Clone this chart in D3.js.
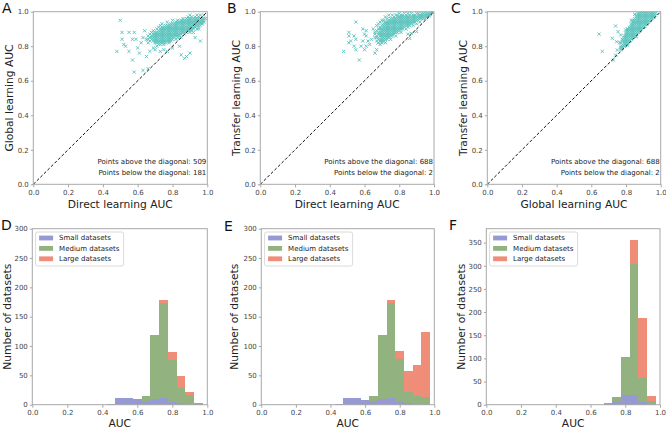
<!DOCTYPE html>
<html><head><meta charset="utf-8">
<script src="https://cdn.jsdelivr.net/npm/d3@7"></script>
<style>body{margin:0;background:#fff} text{font-family:"DejaVu Sans",sans-serif}</style>
</head><body><svg id="c" width="666" height="428"></svg>
<script>
// ---------- DATA ----------
const axisTicks = [0, 0.2, 0.4, 0.6, 0.8, 1.0];
const histYTicksDE = [0, 50, 100, 150, 200, 250, 300];
const histYTicksF = [0, 50, 100, 150, 200, 250, 300, 350];
const seriesNames = ["Small datasets", "Medium datasets", "Large datasets"];
const histBins = [0.45, 0.50, 0.55, 0.60, 0.65, 0.70, 0.75, 0.80, 0.85, 0.90, 0.95];
const histD_small  = [1, 12, 11, 9, 7, 10, 11, 5, 3, 0, 0];
const histD_medium = [0, 0, 0, 0, 8, 109, 162, 72, 25, 17, 3];
const histD_large  = [0, 0, 0, 0, 0, 0, 6, 12, 21, 5, 0];
const histE_small  = [1, 12, 11, 8, 7, 10, 11, 5, 3, 0, 0];
const histE_medium = [0, 0, 0, 0, 8, 109, 162, 73, 18, 15, 13];
const histE_large  = [0, 0, 0, 0, 0, 0, 6, 13, 37, 52, 111];
const histF_small  = [0, 0, 0, 0, 0, 2, 8, 22, 22, 6, 0];
const histF_medium = [0, 0, 0, 0, 0, 1, 8, 81, 281, 52, 9];
const histF_large  = [0, 0, 0, 0, 0, 0, 0, 0, 53, 129, 10];

const scatterLabels = [
  ["Direct learning AUC", "Global learning AUC"],
  ["Direct learning AUC", "Transfer learning AUC"],
  ["Global learning AUC", "Transfer learning AUC"]
];
const aboveCounts = [509, 688, 688];
const belowCounts = [181, 2, 2];

// Panel A: Direct (x) vs Global (y)
const scatterA_sparse = [[0.50,0.95],[0.48,0.77],[0.51,0.84],[0.52,0.81],[0.51,0.88],[0.55,0.88],[0.58,0.88],[0.55,0.77],[0.57,0.72],[0.58,0.65],[0.59,0.84],[0.60,0.79],[0.62,0.82],[0.63,0.85],[0.65,0.84],[0.63,0.66],[0.66,0.67],[0.53,0.80],[0.57,0.84],[0.61,0.76],[0.64,0.89],[0.65,0.74],[0.66,0.82],[0.67,0.77],[0.68,0.88],[0.69,0.79],[0.70,0.78],[0.73,0.77],[0.75,0.78],[0.77,0.77],[0.85,0.75],[0.87,0.73],[0.88,0.74],[0.90,0.76],[0.96,0.83],[0.93,0.85],[0.84,0.80],[0.80,0.79],[0.92,0.88],[0.95,0.90],[0.97,0.93],[0.99,0.96]];
const scatterA_dense = [
  [0.66,[.84,.86]],[0.67,[.83,.85,.87]],[0.68,[.84,.85,.86,.88]],[0.69,[.83,.84,.85,.86,.87,.89]],
  [0.70,[.82,.83,.84,.85,.86,.87,.88]],[0.71,[.80,.82,.83,.84,.85,.86,.87,.88,.90]],
  [0.72,[.81,.82,.83,.84,.85,.86,.87,.88,.89,.91]],[0.73,[.81,.82,.83,.84,.85,.86,.87,.88,.89,.90,.92]],
  [0.74,[.82,.83,.84,.85,.86,.87,.88,.89,.90,.91,.93]],[0.75,[.81,.82,.83,.84,.85,.86,.87,.88,.89,.90,.91]],
  [0.76,[.82,.83,.84,.85,.86,.87,.88,.89,.90,.91,.92]],[0.77,[.83,.84,.85,.86,.87,.88,.89,.90,.91,.92,.94]],
  [0.78,[.82,.83,.84,.85,.86,.87,.88,.89,.90,.91,.92]],[0.79,[.83,.84,.85,.86,.87,.88,.89,.90,.91,.92,.93]],
  [0.80,[.84,.85,.86,.87,.88,.89,.90,.91,.92,.93,.95]],[0.81,[.85,.86,.87,.88,.89,.90,.91,.92,.93]],
  [0.82,[.84,.86,.87,.88,.89,.90,.91,.92,.93,.94]],[0.83,[.85,.86,.87,.88,.89,.90,.91,.92,.93,.94,.95]],
  [0.84,[.86,.87,.88,.89,.90,.91,.92,.93,.94]],[0.85,[.85,.87,.88,.89,.90,.91,.92,.93,.94,.95]],
  [0.86,[.88,.89,.90,.91,.92,.93,.94,.95,.96]],[0.87,[.87,.88,.89,.90,.91,.92,.93,.94,.95]],
  [0.88,[.88,.89,.90,.91,.92,.93,.94,.95,.96]],[0.89,[.89,.90,.91,.92,.93,.94,.95,.96,.97]],
  [0.90,[.88,.89,.90,.91,.92,.93,.94,.95,.96,.98]],[0.91,[.89,.90,.91,.92,.93,.94,.95,.96,.97]],
  [0.92,[.90,.91,.92,.93,.94,.95,.96]],[0.93,[.91,.92,.93,.94,.95,.96,.97]],
  [0.94,[.90,.92,.93,.94,.95,.96,.98]],[0.95,[.91,.92,.93,.94,.95,.96,.97]],
  [0.96,[.92,.93,.94,.95,.96,.98]],[0.97,[.93,.94,.95,.96,.97]],[0.98,[.94,.95,.96,.98]]
];
// Panel B: Direct (x) vs Transfer (y)
const scatterB_sparse = [[0.55,0.94],[0.51,0.88],[0.51,0.86],[0.54,0.86],[0.55,0.84],[0.52,0.83],[0.51,0.82],[0.54,0.80],[0.55,0.78],[0.48,0.77],[0.57,0.72],[0.59,0.90],[0.61,0.89],[0.60,0.87],[0.61,0.86],[0.59,0.83],[0.58,0.80],[0.61,0.80],[0.60,0.78],[0.62,0.83],[0.64,0.84],[0.65,0.90],[0.66,0.87],[0.66,0.76],[0.67,0.78],[0.68,0.82],[0.63,0.81],[0.86,0.845],[0.90,0.885],[0.85,0.87],[0.87,0.875]];
const scatterB_dense = [
  [0.66,[.85,.88]],[0.67,[.83,.85,.86,.89,.92]],[0.68,[.82,.84,.85,.87,.88,.90,.93]],
  [0.69,[.81,.83,.84,.86,.87,.88,.90,.91,.94]],[0.70,[.82,.83,.84,.85,.86,.87,.88,.89,.90,.92,.95]],
  [0.71,[.83,.84,.85,.86,.87,.88,.89,.90,.91,.92,.93,.95]],[0.72,[.82,.84,.85,.86,.87,.88,.89,.90,.91,.92,.93,.94,.97]],
  [0.73,[.84,.85,.86,.87,.88,.89,.90,.91,.92,.93,.94,.96]],[0.74,[.85,.86,.87,.88,.89,.90,.91,.92,.93,.94,.95,.98]],
  [0.75,[.84,.86,.87,.88,.89,.90,.91,.92,.93,.94,.95,.96]],[0.76,[.86,.87,.88,.89,.90,.91,.92,.93,.94,.95,.96,.98]],
  [0.77,[.87,.88,.89,.90,.91,.92,.93,.94,.95,.96,.97]],[0.78,[.86,.88,.89,.90,.91,.92,.93,.94,.95,.96,.98]],
  [0.79,[.88,.89,.90,.91,.92,.93,.94,.95,.96,.97,.98]],[0.80,[.89,.90,.91,.92,.93,.94,.95,.96,.97,.99]],
  [0.81,[.88,.90,.91,.92,.93,.94,.95,.96,.97,.98]],[0.82,[.90,.91,.92,.93,.94,.95,.96,.97,.98]],
  [0.83,[.91,.92,.93,.94,.95,.96,.97,.99]],[0.84,[.90,.92,.93,.94,.95,.96,.97,.98]],
  [0.85,[.91,.92,.93,.94,.95,.96,.97,.99]],[0.86,[.92,.93,.94,.95,.96,.97,.98]],
  [0.87,[.93,.94,.95,.96,.97,.99]],[0.88,[.92,.94,.95,.96,.97,.98]],[0.89,[.94,.95,.96,.97,.98]],
  [0.90,[.93,.95,.96,.97,.99]],[0.91,[.95,.96,.97,.98,.99]],[0.92,[.94,.96,.97,.98]],
  [0.93,[.96,.97,.98,.99]],[0.94,[.96,.97,.98,.99]],[0.95,[.96,.97,.98,.99]],[0.96,[.97,.98,.99]],
  [0.97,[.975,.98,.99]],[0.98,[.985,.995]],[0.99,[.995,1.0]]
];
// Panel C: Global (x) vs Transfer (y)
const scatterC_sparse = [[0.645,0.87],[0.663,0.77],[0.74,0.917],[0.754,0.884],[0.721,0.846],[0.746,0.826],[0.763,0.82],[0.779,0.84],[0.798,0.894],[0.808,0.898],[0.813,0.884],[0.727,0.72],[0.74,0.749],[0.75,0.778],[0.788,0.817],[0.769,0.865],[0.86,0.855],[0.81,0.805],[0.83,0.95],[0.85,0.985]];
const scatterC_dense = [
  [0.77,[.78,.79,.80,.82]],[0.78,[.79,.80,.81,.83,.84]],[0.79,[.80,.81,.82,.83,.84,.85,.86]],
  [0.80,[.81,.82,.83,.84,.85,.86,.87,.88]],[0.81,[.82,.83,.84,.85,.86,.87,.88,.89,.90]],
  [0.82,[.83,.84,.85,.86,.87,.88,.89,.90,.91]],[0.83,[.84,.85,.86,.87,.88,.89,.90,.91,.92,.93]],
  [0.84,[.85,.86,.87,.88,.89,.90,.91,.92,.93,.94,.95]],[0.85,[.86,.87,.88,.89,.90,.91,.92,.93,.94,.95,.96]],
  [0.86,[.87,.88,.89,.90,.91,.92,.93,.94,.95,.96,.97,.98]],[0.87,[.88,.89,.90,.91,.92,.93,.94,.95,.96,.97,.98,.99]],
  [0.88,[.89,.90,.91,.92,.93,.94,.95,.96,.97,.98,.99,1.0]],[0.89,[.90,.91,.92,.93,.94,.95,.96,.97,.98,.99,1.0]],
  [0.90,[.91,.92,.93,.94,.95,.96,.97,.98,.99,1.0]],[0.91,[.92,.93,.94,.95,.96,.97,.98,.99,1.0]],
  [0.92,[.93,.94,.95,.96,.97,.98,.99,1.0]],[0.93,[.94,.95,.96,.97,.98,.99,1.0]],
  [0.94,[.95,.96,.97,.98,.99,1.0]],[0.95,[.96,.97,.98,.99,1.0]],[0.96,[.97,.98,.99,1.0]],[0.97,[.98,.99,1.0]]
];

// ---------- LAYOUT / STYLE ----------
const frameColor = "#a8a8a8", tickColor = "#444", labelColor = "#222";
const markerColor = "#5ec4be";
const histColors = ["#9799d4", "#92b280", "#ef8d78"];
const svg = d3.select("#c");

const scatterPanels = [
  {letter:"A", x0:33.3, x1:207.3, lx:2, ylabX:9, sparse:scatterA_sparse, dense:scatterA_dense},
  {letter:"B", x0:260.3, x1:434, lx:227, ylabX:236, sparse:scatterB_sparse, dense:scatterB_dense},
  {letter:"C", x0:487.3, x1:660.7, lx:451, ylabX:463, sparse:scatterC_sparse, dense:scatterC_dense}
];
const sTop = 11.7, sBot = 184.3;

function styleAxis(g) {
  g.select(".domain").remove();
  g.selectAll(".tick line").attr("stroke", frameColor);
  g.selectAll(".tick text").attr("fill", tickColor).attr("font-size", 7).attr("font-family", "DejaVu Sans");
}

scatterPanels.forEach((p, i) => {
  const x = d3.scaleLinear().domain([0,1]).range([p.x0, p.x1]);
  const y = d3.scaleLinear().domain([0,1]).range([sBot, sTop]);
  const g = svg.append("g");
  const clipId = "clip" + i;
  svg.append("clipPath").attr("id", clipId).append("rect")
    .attr("x", p.x0).attr("y", sTop).attr("width", p.x1 - p.x0).attr("height", sBot - sTop);

  g.append("g").attr("transform", `translate(0,${sBot})`)
    .call(d3.axisBottom(x).tickValues(axisTicks).tickFormat(d3.format(".1f")).tickSize(3).tickPadding(2.5))
    .call(styleAxis);
  g.append("g").attr("transform", `translate(${p.x0},0)`)
    .call(d3.axisLeft(y).tickValues(axisTicks).tickFormat(d3.format(".1f")).tickSize(2.5).tickPadding(2))
    .call(styleAxis);

  const pts = p.sparse.map(d => ({x:d[0], y:d[1]}));
  p.dense.forEach(c => c[1].forEach(v => pts.push({x:c[0], y:v})));
  const s = 1.6;
  g.append("g").attr("clip-path", `url(#${clipId})`).selectAll("path").data(pts).join("path")
    .attr("d", d => {
      const cx = x(d.x), cy = y(d.y);
      return `M${cx-s},${cy-s}L${cx+s},${cy+s}M${cx-s},${cy+s}L${cx+s},${cy-s}`;
    })
    .attr("stroke", markerColor).attr("stroke-width", 0.95).attr("fill", "none");

  g.append("line").attr("x1", x(0)).attr("y1", y(0)).attr("x2", x(1)).attr("y2", y(1))
    .attr("stroke", "#111").attr("stroke-width", 1).attr("stroke-dasharray", "3,2");

  g.append("rect").attr("x", p.x0).attr("y", sTop).attr("width", p.x1 - p.x0).attr("height", sBot - sTop)
    .attr("fill", "none").attr("stroke", frameColor).attr("stroke-width", 1);

  g.append("text").attr("x", p.x1 - 1).attr("y", 164).attr("text-anchor", "end")
    .attr("font-size", 7).attr("fill", "#222").text(`Points above the diagonal: ${aboveCounts[i]}`);
  g.append("text").attr("x", p.x1 - 1).attr("y", 174.5).attr("text-anchor", "end")
    .attr("font-size", 7).attr("fill", "#222").text(`Points below the diagonal: ${belowCounts[i]}`);

  g.append("text").attr("x", (p.x0 + p.x1)/2).attr("y", 207.5).attr("text-anchor", "middle")
    .attr("font-size", 10.7).attr("fill", labelColor).text(scatterLabels[i][0]);
  g.append("text").attr("transform", `translate(${p.ylabX},${(sTop+sBot)/2}) rotate(-90)`)
    .attr("text-anchor", "middle").attr("dy", "0.35em")
    .attr("font-size", 10.7).attr("fill", labelColor).text(scatterLabels[i][1]);
  g.append("text").attr("x", p.lx).attr("y", 12.5).attr("font-size", 14).attr("fill", "#111").text(p.letter);
});

const histPanels = [
  {letter:"D", x0:32.3, x1:207.3, lx:1, ly:230, ylabX:7.5, ymax:300, yt:histYTicksDE, data:[histD_small, histD_medium, histD_large]},
  {letter:"E", x0:261.3, x1:434.3, lx:224, ly:231, ylabX:234.5, ymax:300, yt:histYTicksDE, data:[histE_small, histE_medium, histE_large]},
  {letter:"F", x0:486.3, x1:660, lx:449, ly:230, ylabX:461.5, ymax:380, yt:histYTicksF, data:[histF_small, histF_medium, histF_large]}
];
const hTop = 228.7, hBot = 404.7;

histPanels.forEach(p => {
  const x = d3.scaleLinear().domain([0,1]).range([p.x0, p.x1]);
  const y = d3.scaleLinear().domain([0,p.ymax]).range([hBot, hTop]);
  const g = svg.append("g");
  const rows = histBins.map((b, k) => ({bin:b, s:p.data[0][k], m:p.data[1][k], l:p.data[2][k]}));
  const stack = d3.stack().keys(["s","m","l"])(rows);
  stack.forEach((layer, li) => {
    g.append("g").selectAll("rect").data(layer.filter(d => d[1] > d[0])).join("rect")
      .attr("x", d => x(d.data.bin - 0.025)).attr("width", d => x(d.data.bin + 0.025) - x(d.data.bin - 0.025))
      .attr("y", d => y(d[1])).attr("height", d => y(d[0]) - y(d[1]))
      .attr("fill", histColors[li]).attr("shape-rendering", "crispEdges");
  });
  g.append("g").attr("transform", `translate(0,${hBot})`)
    .call(d3.axisBottom(x).tickValues(axisTicks).tickFormat(d3.format(".1f")).tickSize(3).tickPadding(2.5))
    .call(styleAxis);
  g.append("g").attr("transform", `translate(${p.x0},0)`)
    .call(d3.axisLeft(y).tickValues(p.yt).tickFormat(d3.format("d")).tickSize(2.5).tickPadding(2))
    .call(styleAxis);
  g.append("rect").attr("x", p.x0).attr("y", hTop).attr("width", p.x1 - p.x0).attr("height", hBot - hTop)
    .attr("fill", "none").attr("stroke", frameColor).attr("stroke-width", 1);

  // legend
  const lg = g.append("g").attr("transform", `translate(${p.x0 + 3.3},${hTop + 3.3})`);
  lg.append("rect").attr("width", 88).attr("height", 34).attr("rx", 2)
    .attr("fill", "#fff").attr("fill-opacity", 0.8).attr("stroke", "#d0d0d0").attr("stroke-width", 0.8);
  seriesNames.forEach((n, k) => {
    const cy = 6 + k * 10.4;
    lg.append("rect").attr("x", 3.5).attr("y", cy - 2.4).attr("width", 14).attr("height", 4.8).attr("fill", histColors[k]);
    lg.append("text").attr("x", 23.5).attr("y", cy).attr("dy", "0.35em").attr("font-size", 7).attr("fill", "#222").text(n);
  });

  g.append("text").attr("x", (p.x0 + p.x1)/2).attr("y", 426.5).attr("text-anchor", "middle")
    .attr("font-size", 10.7).attr("fill", labelColor).text("AUC");
  g.append("text").attr("transform", `translate(${p.ylabX},${(hTop+hBot)/2}) rotate(-90)`)
    .attr("text-anchor", "middle").attr("dy", "0.35em")
    .attr("font-size", 10.7).attr("fill", labelColor).text("Number of datasets");
  g.append("text").attr("x", p.lx).attr("y", p.ly).attr("font-size", 14).attr("fill", "#111").text(p.letter);
});
</script></body></html>
